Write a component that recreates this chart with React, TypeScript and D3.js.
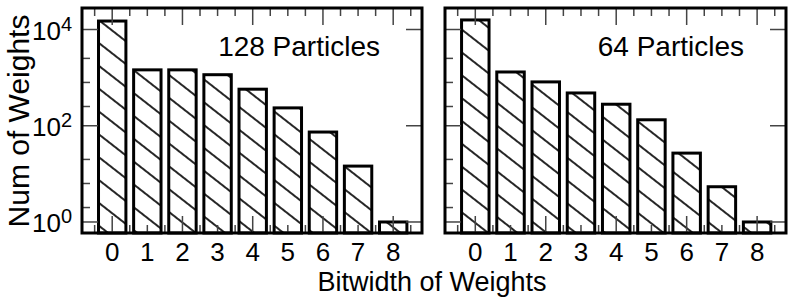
import React from "react";
import * as d3 from "d3";

// bitwidth categories and weight counts
const bitwidths = [0, 1, 2, 3, 4, 5, 6, 7, 8];
const counts128 = [15000, 1450, 1450, 1150, 575, 235, 74, 14.5, 1];
const counts64 = [15800, 1310, 815, 480, 280, 133, 27, 5.4, 1];
const panelTitles = ["128 Particles", "64 Particles"];
const yMajorExps = [0, 2, 4];
const yMinorExps = [0.3, 0.8, 1.3, 2.4, 2.9, 3.4];
const xMajorTicks = [0, 2, 4, 6, 8];
const xMinorTicks = [-0.5, 0.5, 1, 1.5, 2.5, 3, 3.5, 4.5, 5, 5.5, 6.5, 7, 7.5, 8.5];

const W = 797;
const H = 299;
const top = 8;
const bottom = 233;
const font = "'Liberation Sans', Arial, sans-serif";

const Panel = (props: { x0: number; x1: number; values: number[]; title: string; yLabels: boolean }) => {
  const { x0, x1, values, title, yLabels } = props;
  const x = d3.scaleLinear().domain([-0.86, 8.82]).range([x0, x1]);
  const y = d3.scaleLog().domain([Math.pow(10, -0.229), Math.pow(10, 4.447)]).range([bottom, top]);
  const bw = x(0.78) - x(0);
  const tickCol = "#444";

  return (
    <g>
      {bitwidths.map((b, i) => (
        <rect key={"bar" + b} x={x(b) - bw / 2} y={y(values[i])} width={bw} height={bottom - y(values[i])}
          fill="url(#hatch)" stroke="#000" strokeWidth={3} />
      ))}
      {/* left / right y ticks */}
      {yMajorExps.map((e) => (
        <g key={"ym" + e}>
          <line x1={x0} x2={x0 + 16} y1={y(Math.pow(10, e))} y2={y(Math.pow(10, e))} stroke={tickCol} strokeWidth={1.5} />
          <line x1={x1} x2={x1 - 16} y1={y(Math.pow(10, e))} y2={y(Math.pow(10, e))} stroke={tickCol} strokeWidth={1.5} />
        </g>
      ))}
      {yMinorExps.map((e) => (
        <line key={"yn" + e} x1={x0} x2={x0 + 8} y1={y(Math.pow(10, e))} y2={y(Math.pow(10, e))} stroke={tickCol} strokeWidth={1.5} />
      ))}
      {/* top / bottom x ticks */}
      {xMajorTicks.map((t) => (
        <g key={"xm" + t}>
          <line x1={x(t)} x2={x(t)} y1={top} y2={top + 17} stroke={tickCol} strokeWidth={1.5} />
          <line x1={x(t)} x2={x(t)} y1={bottom} y2={bottom - 17} stroke={tickCol} strokeWidth={1.5} />
        </g>
      ))}
      {xMinorTicks.map((t) => (
        <g key={"xn" + t}>
          <line x1={x(t)} x2={x(t)} y1={top} y2={top + 8} stroke={tickCol} strokeWidth={1.5} />
          <line x1={x(t)} x2={x(t)} y1={bottom} y2={bottom - 8} stroke={tickCol} strokeWidth={1.5} />
        </g>
      ))}
      <rect x={x0} y={top} width={x1 - x0} height={bottom - top} fill="none" stroke="#000" strokeWidth={3} />
      {bitwidths.map((b) => (
        <text key={"xl" + b} x={x(b)} y={261} textAnchor="middle" fontSize={26} fontFamily={font}>{b}</text>
      ))}
      {yLabels && yMajorExps.map((e) => (
        <text key={"yl" + e} x={72} y={y(Math.pow(10, e)) + 10} textAnchor="end" fontSize={26} fontFamily={font}>
          10<tspan fontSize={20} dy={-9}>{e}</tspan>
        </text>
      ))}
      <text x={x1 - 42} y={56} textAnchor="end" fontSize={28} fontFamily={font}>{title}</text>
    </g>
  );
};

export default function App() {
  return (
    <svg width={W} height={H} style={{ position: "absolute", left: 0, top: 0, background: "#fff" }}>
      <defs>
        <pattern id="hatch" patternUnits="userSpaceOnUse" width={10} height={18} patternTransform="rotate(38)">
          <rect width={10} height={18} fill="#fff" />
          <line x1={0} x2={10} y1={9} y2={9} stroke="#000" strokeWidth={1.7} />
        </pattern>
      </defs>
      <rect width={W} height={H} fill="#fff" />
      <Panel x0={82} x1={422} values={counts128} title={panelTitles[0]} yLabels={true} />
      <Panel x0={445} x1={786} values={counts64} title={panelTitles[1]} yLabels={false} />
      <text transform="translate(29,121) rotate(-90)" textAnchor="middle" fontSize={30} fontFamily={font}>Num of Weights</text>
      <text x={432} y={291} textAnchor="middle" fontSize={27} fontFamily={font}>Bitwidth of Weights</text>
    </svg>
  );
}
